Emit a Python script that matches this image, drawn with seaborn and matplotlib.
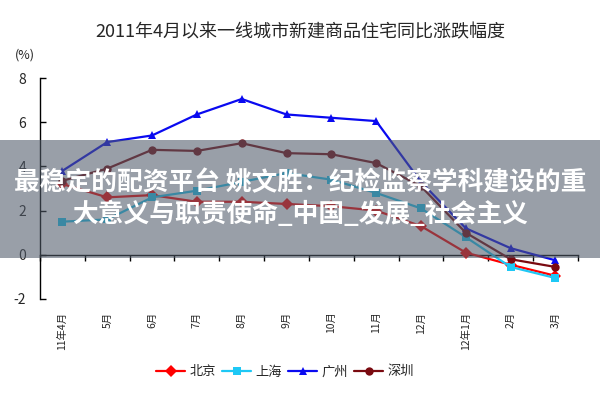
import pandas as pd
import matplotlib.pyplot as plt
import seaborn as sns
from matplotlib.patches import Rectangle

# -----------------------------
# Data
# -----------------------------
months = ['11年4月', '5月', '6月', '7月', '8月', '9月', '10月', '11月', '12月', '12年1月', '2月', '3月']
cities = ['北京', '上海', '广州', '深圳']
beijing = [3.2, 2.6, 2.7, 2.4, 2.4, 2.3, 2.2, 2.0, 1.3, 0.1, -0.45, -0.95]
shanghai = [1.5, 1.6, 2.6, 2.9, 3.3, 3.7, 3.4, 2.8, 2.1, 0.8, -0.55, -1.05]
guangzhou = [3.8, 5.1, 5.4, 6.35, 7.05, 6.35, 6.2, 6.05, 3.3, 1.2, 0.3, -0.25]
shenzhen = [3.35, 3.9, 4.75, 4.7, 5.05, 4.6, 4.55, 4.15, 3.1, 1.0, -0.2, -0.55]

title = '2011年4月以来一线城市新建商品住宅同比涨跌幅度'
banner_1 = '最稳定的配资平台 姚文胜：纪检监察学科建设的重'
banner_2 = '大意义与职责使命_中国_发展_社会主义'

colors = {'北京': '#FF0000', '上海': '#1EC8F5', '广州': '#0A0AF0', '深圳': '#7A0A10'}
markers = {'北京': 'D', '上海': 's', '广州': '^', '深圳': 'o'}

rows = []
for city, vals in zip(cities, [beijing, shanghai, guangzhou, shenzhen]):
    for m, v in zip(months, vals):
        rows.append({'month': m, 'city': city, 'value': v})
df = pd.DataFrame(rows)

# -----------------------------
# Style
# -----------------------------
sns.set_style('white')
plt.rcParams['font.family'] = ['Noto Sans CJK SC', 'DejaVu Sans']
plt.rcParams['axes.unicode_minus'] = False

fig = plt.figure(figsize=(6, 4), dpi=100)
ax = fig.add_axes([0.0667, 0.2525, 0.8963, 0.5525])

sns.lineplot(data=df, x='month', y='value', hue='city', style='city',
             hue_order=cities, style_order=cities, palette=colors,
             markers=markers, dashes=False, linewidth=1.6, markersize=6,
             markeredgewidth=0, sort=False, ax=ax)

ax.set_xlim(-0.5, len(months) - 0.5)
ax.set_ylim(-2, 8)
ax.set_yticks([-2, 0, 2, 4, 6, 8])
ax.set_xlabel('')
ax.set_ylabel('')

for s in ['top', 'right', 'bottom']:
    ax.spines[s].set_visible(False)
ax.spines['left'].set_color('black')
ax.spines['left'].set_linewidth(1)
ax.tick_params(axis='y', direction='in', length=4, width=1, color='black',
               labelsize=10, pad=10, left=True)
ax.tick_params(axis='x', length=0, labelsize=7.5, pad=9, rotation=90)

# zero line with month separators
zero_axis = ax.secondary_xaxis(0.2)
zero_axis.set_xticks([i - 0.5 for i in range(len(months) + 1)])
zero_axis.set_xticklabels([])
zero_axis.tick_params(direction='out', length=4, width=1, color='black')
zero_axis.spines['bottom'].set_color('black')
zero_axis.spines['bottom'].set_linewidth(1)

fig.text(0.042, 0.862, '(%)', fontsize=9, ha='center', va='center')
fig.text(0.5, 0.92, title, fontsize=13, ha='center', va='center')

handles, labels = ax.get_legend_handles_labels()
ax.get_legend().remove()
fig.legend(handles, labels, loc='center', bbox_to_anchor=(0.475, 0.07), ncol=4,
           frameon=False, fontsize=9.5, handlelength=2.2, columnspacing=0.5,
           handletextpad=0.3)

# -----------------------------
# Overlay banner
# -----------------------------
fig.patches.append(Rectangle((0, 1 - 258 / 400), 1, 118 / 400, transform=fig.transFigure,
                             facecolor='#505A69', alpha=0.58, edgecolor='none', zorder=10))
fig.text(0.5, 1 - 183 / 400, banner_1, fontsize=18.5, fontweight='bold', color='white',
         ha='center', va='center', zorder=11)
fig.text(0.5, 1 - 215 / 400, banner_2, fontsize=18.5, fontweight='bold', color='white',
         ha='center', va='center', zorder=11)

plt.savefig('out.png', dpi=100)
